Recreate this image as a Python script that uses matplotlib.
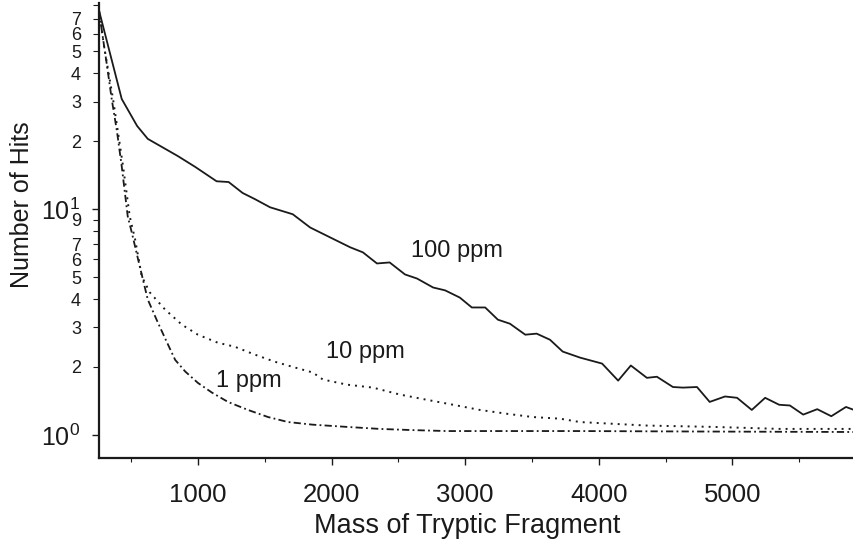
import matplotlib
matplotlib.use("Agg")
import matplotlib.pyplot as plt
from matplotlib.ticker import FixedLocator, FixedFormatter

# ---- data ----
mass_100 = [260, 430, 545, 625, 850, 980, 1140, 1230, 1335, 1425, 1540, 1710, 1840, 1990,
            2140, 2235, 2340, 2435, 2550, 2640, 2760, 2850, 2960, 3050, 3150, 3245, 3335,
            3450, 3535, 3635, 3730, 3860, 4025, 4145, 4240, 4360, 4435, 4555, 4630, 4735,
            4830, 4945, 5035, 5145, 5245, 5350, 5430, 5530, 5635, 5740, 5850, 5910]
hits_100 = [76, 30.8, 23.4, 20.5, 17.2, 15.4, 13.3, 13.2, 11.8, 11.1, 10.2, 9.5, 8.3, 7.5,
            6.78, 6.44, 5.75, 5.81, 5.14, 4.93, 4.50, 4.37, 4.06, 3.67, 3.67, 3.24, 3.11,
            2.78, 2.81, 2.64, 2.34, 2.20, 2.07, 1.74, 2.03, 1.79, 1.81, 1.63, 1.62, 1.63,
            1.40, 1.48, 1.46, 1.29, 1.46, 1.36, 1.35, 1.23, 1.30, 1.21, 1.33, 1.29]

mass_10 = [260, 295, 365, 440, 490, 530, 580, 640, 755, 880, 1000, 1150, 1275, 1425, 1575,
           1725, 1860, 1935, 2115, 2310, 2510, 2715, 2910, 3110, 3315, 3505, 3710, 3860,
           4105, 4360, 4855, 5355, 5910]
hits_10 = [76, 54, 30.8, 15.5, 9.3, 7.36, 5.04, 4.28, 3.59, 3.08, 2.78, 2.56, 2.46, 2.27,
           2.11, 1.99, 1.89, 1.76, 1.67, 1.62, 1.51, 1.43, 1.36, 1.29, 1.24, 1.20, 1.18,
           1.14, 1.12, 1.10, 1.085, 1.063, 1.063]

mass_1 = [260, 290, 320, 355, 395, 430, 475, 505, 565, 625, 700, 770, 830, 905, 1000, 1105,
          1225, 1375, 1525, 1675, 1860, 2115, 2360, 2610, 2865, 3360, 3860, 4760, 5910]
hits_1 = [76, 57, 43.2, 30.8, 22.0, 15.5, 9.3, 7.9, 5.58, 3.98, 3.15, 2.56, 2.15, 1.91,
          1.70, 1.54, 1.40, 1.29, 1.20, 1.14, 1.11, 1.085, 1.063, 1.05, 1.04, 1.04, 1.04,
          1.035, 1.03]

series_labels = ["100 ppm", "10 ppm", "1 ppm"]

x_major_ticks = [1000, 2000, 3000, 4000, 5000]
x_minor_ticks = [500, 1500, 2500, 3500, 4500, 5500]
y_major_ticks = [1, 10]
y_major_labels = [r"$\mathdefault{10^{0}}$", r"$\mathdefault{10^{1}}$"]
y_minor_ticks = [2, 3, 4, 5, 6, 7, 8, 9, 20, 30, 40, 50, 60, 70, 80]
y_minor_labels = ["2", "3", "4", "5", "6", "7", "", "9", "2", "3", "4", "5", "6", "7", ""]

# ---- style ----
plt.rcParams["font.family"] = ["Liberation Sans", "DejaVu Sans"]
plt.rcParams["mathtext.fontset"] = "custom"
plt.rcParams["mathtext.rm"] = "Liberation Sans"
plt.rcParams["mathtext.it"] = "Liberation Sans:italic"
plt.rcParams["mathtext.bf"] = "Liberation Sans:bold"

ink = "#1a1a1a"

fig = plt.figure(figsize=(8.54, 5.40), dpi=100)
ax = fig.add_axes([99 / 854, (540 - 458) / 540, 755 / 854, 455 / 540])

ax.plot(mass_100, hits_100, color=ink, lw=1.3, ls="-")
ax.plot(mass_10, hits_10, color=ink, lw=1.4, ls=(0, (1, 2.6)))
ax.plot(mass_1, hits_1, color=ink, lw=1.3, ls=(0, (4, 1.8, 1, 1.8)))

ax.set_yscale("log")
ax.set_xlim(260, 5910)
ax.set_ylim(0.79, 82)

ax.xaxis.set_major_locator(FixedLocator(x_major_ticks))
ax.xaxis.set_minor_locator(FixedLocator(x_minor_ticks))
ax.set_xticklabels([str(v) for v in x_major_ticks])

ax.yaxis.set_major_locator(FixedLocator(y_major_ticks))
ax.yaxis.set_major_formatter(FixedFormatter(y_major_labels))
ax.yaxis.set_minor_locator(FixedLocator(y_minor_ticks))
ax.yaxis.set_minor_formatter(FixedFormatter(y_minor_labels))

for s in ["top", "right"]:
    ax.spines[s].set_visible(False)
for s in ["left", "bottom"]:
    ax.spines[s].set_linewidth(1.6)
    ax.spines[s].set_color(ink)

ax.tick_params(axis="x", which="major", direction="out", length=5, width=1.0,
               colors=ink, labelsize=18.5, pad=13)
ax.tick_params(axis="x", which="minor", direction="out", length=3, width=0.8, colors=ink)
ax.tick_params(axis="y", which="major", direction="out", length=5, width=1.0,
               colors=ink, labelsize=18, pad=9)
ax.tick_params(axis="y", which="minor", direction="out", length=4, width=0.8,
               colors=ink, labelsize=13, pad=9)

ax.set_xlabel("Mass of Tryptic Fragment", fontsize=19.5, color=ink, va="center")
ax.xaxis.set_label_coords((467 - 99) / 755, (458 - 526) / 455)
ax.set_ylabel("Number of Hits", fontsize=18, color=ink, va="center")
ax.yaxis.set_label_coords((22 - 99) / 755, (458 - 205) / 455)

ax.text(2939, 6.51, series_labels[0], fontsize=17, color=ink, ha="center", va="center")
ax.text(2250, 2.34, series_labels[1], fontsize=17, color=ink, ha="center", va="center")
ax.text(1382, 1.74, series_labels[2], fontsize=17, color=ink, ha="center", va="center")

fig.savefig("out.png", dpi=100, facecolor="white")
